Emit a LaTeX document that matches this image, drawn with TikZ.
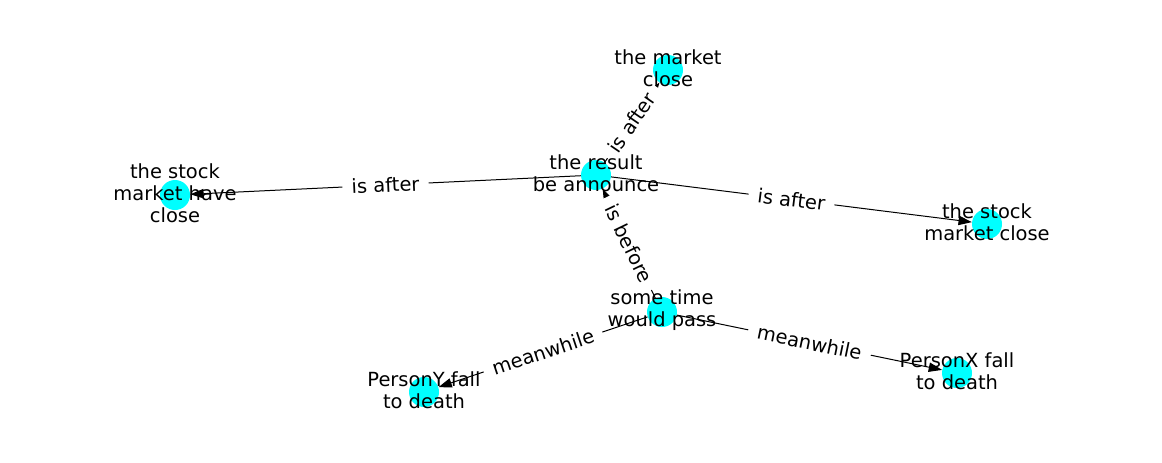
\documentclass[tikz,border=0pt]{standalone}
\usepackage{fontspec}
\setmainfont{DejaVu Sans}
\usetikzlibrary{arrows.meta}
\definecolor{nodecyan}{RGB}{0,255,255}
\begin{document}
\begin{tikzpicture}[x=0.75pt,y=-0.75pt,
  vert/.style={circle,fill=nodecyan,minimum size=22.5pt,inner sep=0pt},
  txt/.style={align=center,font=\fontsize{14.6}{16.5}\selectfont,text=black,inner sep=0pt,yshift=1.5pt},
  edge/.style={line width=0.75pt,-{Triangle[length=10pt,width=7pt]}},
  elab/.style={sloped,midway,fill=white,font=\fontsize{14.6}{16.5}\selectfont,inner xsep=7pt,inner ysep=3pt}]
\useasboundingbox (0,0) rectangle (1162,462);
% vertices
\node[vert] (R) at (596,175) {};
\node[vert] (MC) at (668,70) {};
\node[vert] (SH) at (175,195) {};
\node[vert] (SC) at (987,224) {};
\node[vert] (T) at (662,312) {};
\node[vert] (PY) at (424,392) {};
\node[vert] (PX) at (957,373) {};
% edges
\draw[edge] (R) -- (MC) node[elab] {is after};
\draw[edge] (R) -- (SH) node[elab] {is after};
\draw[edge] (R) -- (SC) node[elab] {is after};
\draw[edge] (T) -- (R) node[elab] {is before};
\draw[edge] (T) -- (PY) node[elab] {meanwhile};
\draw[edge] (T) -- (PX) node[elab] {meanwhile};
% texts
\node[txt] (tR) at (R) {the result\\be announce};
\node[txt] (tMC) at (MC) {the market\\close};
\node[txt] (tSH) at (SH) {the stock\\market have\\close};
\node[txt] (tSC) at (SC) {the stock\\market close};
\node[txt] (tT) at (T) {some time\\would pass};
\node[txt] (tPY) at (PY) {PersonY fall\\to death};
\node[txt] (tPX) at (PX) {PersonX fall\\to death};
\end{tikzpicture}
\end{document}
